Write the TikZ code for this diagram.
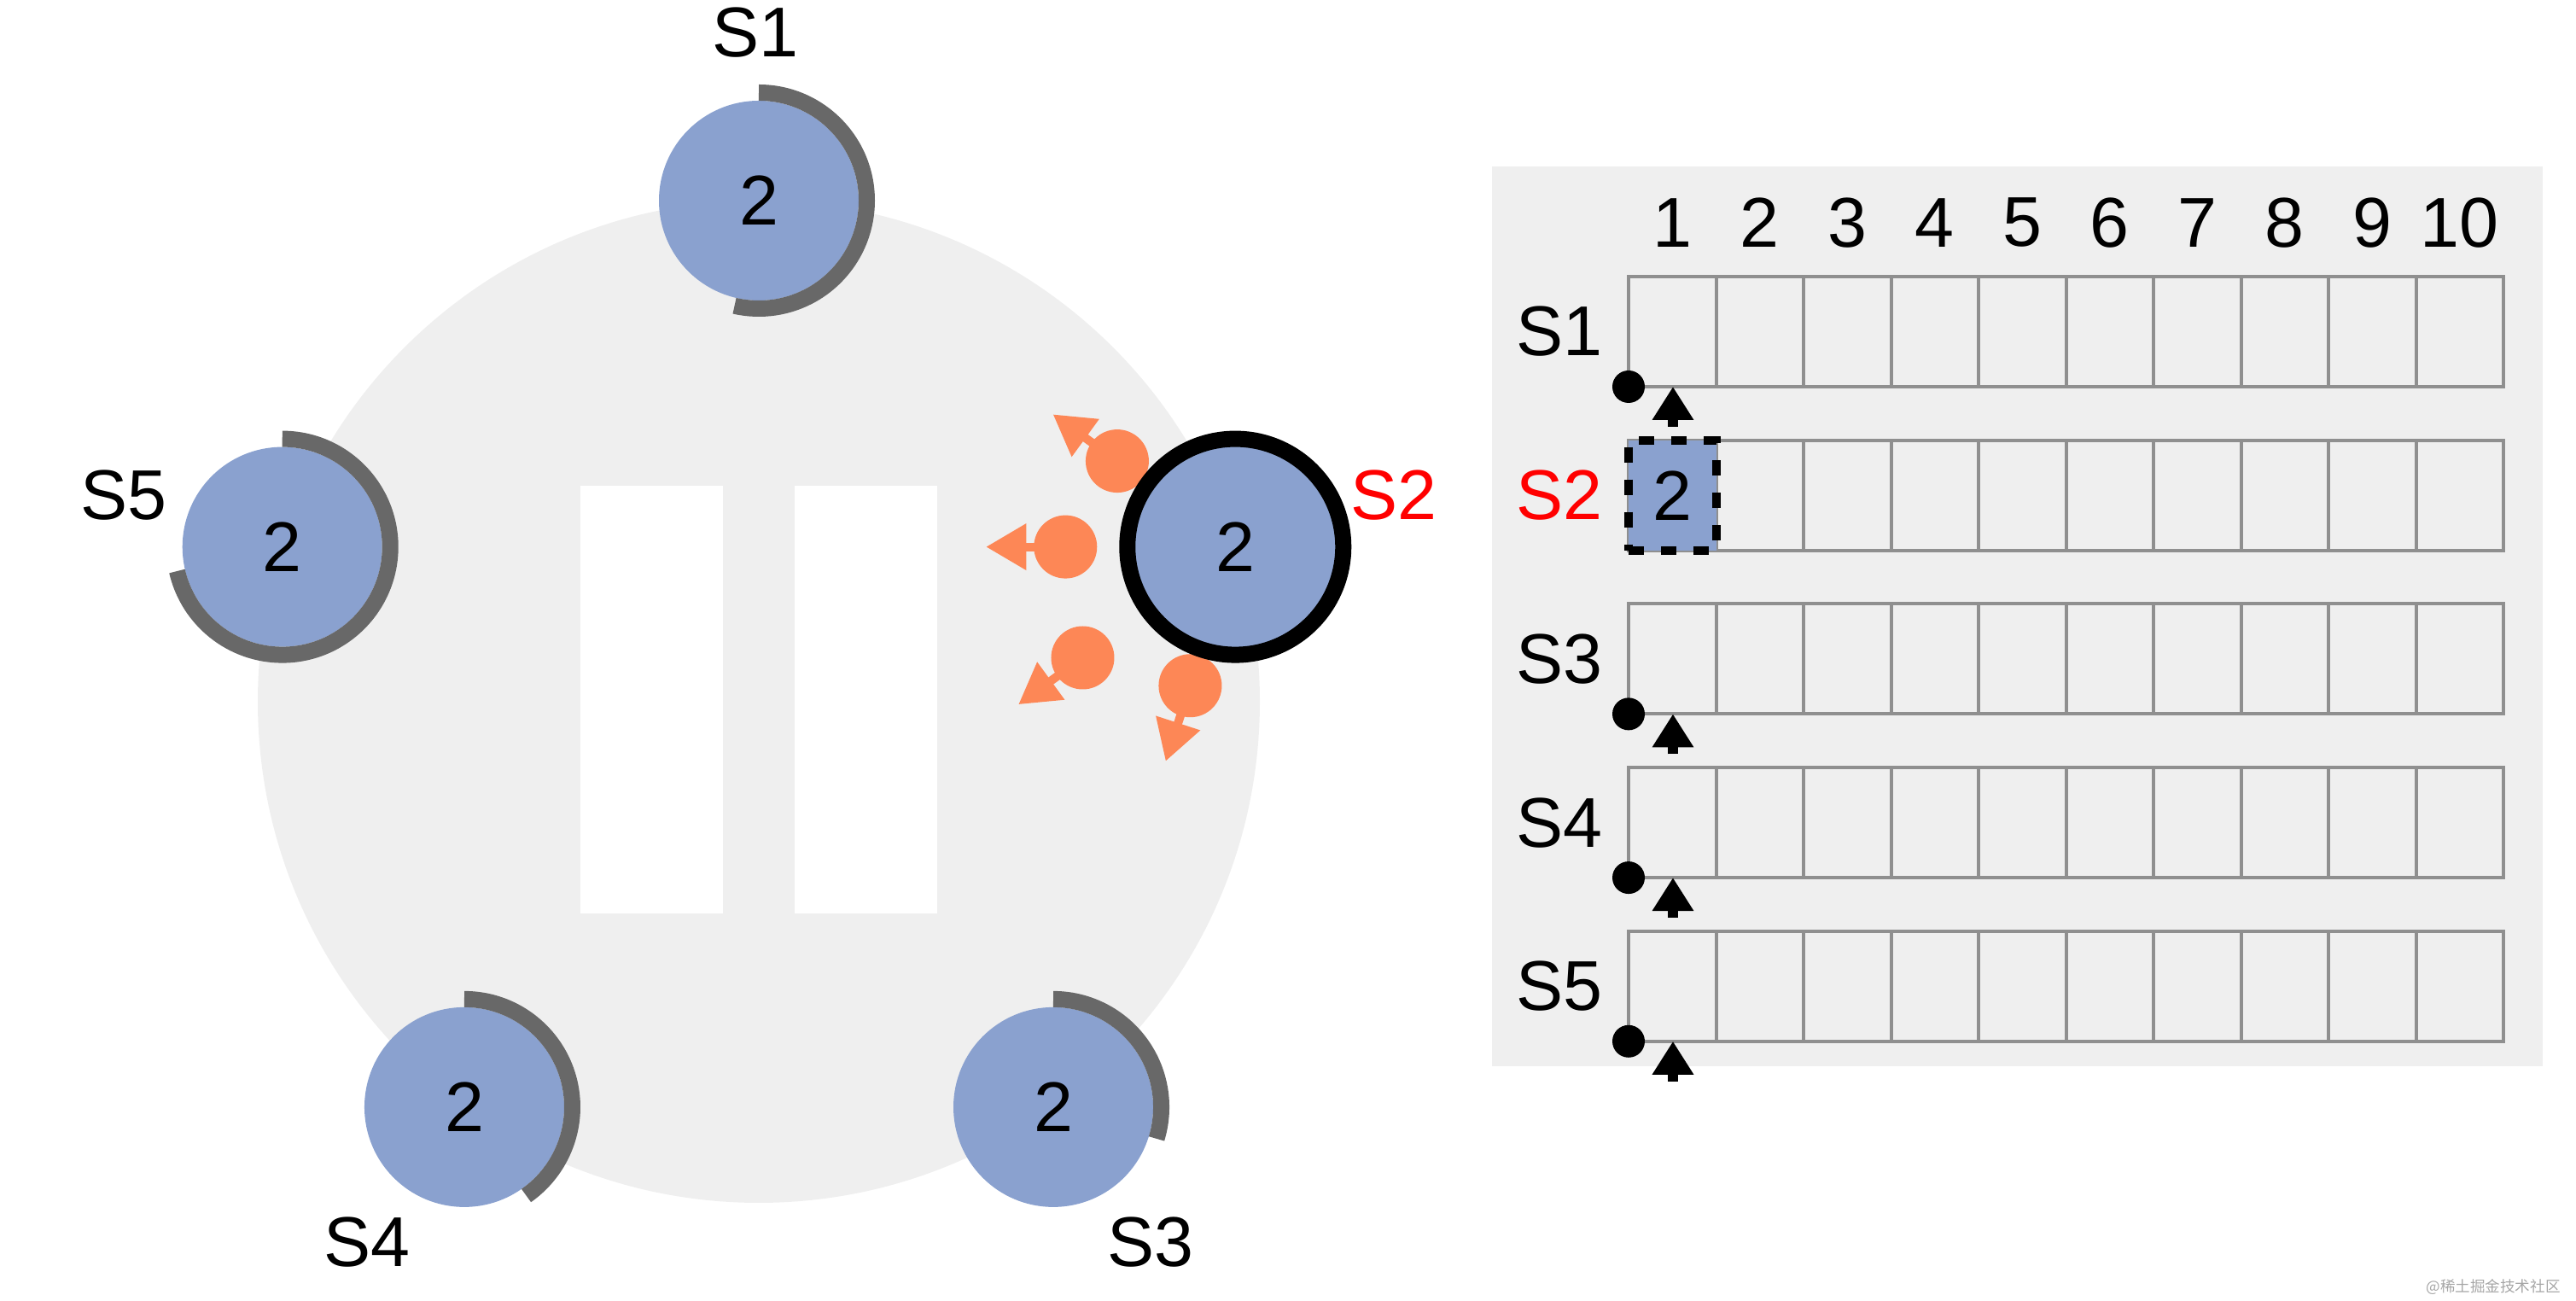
\documentclass[tikz,border=0pt]{standalone}
\usepackage{fontspec}
\setmainfont{Liberation Sans}
\newfontfamily\cjkfont{Noto Sans CJK SC}
\usepackage{tikz}
\usetikzlibrary{arrows.meta,positioning}
\definecolor{nodeblue}{RGB}{138,161,207}
\definecolor{ringgrey}{RGB}{239,239,239}
\definecolor{timergrey}{RGB}{104,104,104}
\definecolor{msgorange}{RGB}{253,135,86}
\definecolor{gridgrey}{RGB}{143,143,143}

\begin{document}
\begin{tikzpicture}[every node/.style={font=\fontsize{23.5}{28}\selectfont},
  server/.style={circle, fill=nodeblue, minimum size=2.34cm, inner sep=0pt},
  leader/.style={circle, fill=nodeblue, draw=black, line width=0.19cm, minimum size=2.53cm, inner sep=0pt},
  timer/.style={timergrey, line width=0.19cm},
  vote/.style={circle, fill=msgorange, minimum size=0.74cm, inner sep=0pt},
  votearrow/.style={msgorange, line width=0.1cm, -{Triangle[length=0.47cm, width=0.52cm]}},
  cell/.style={gridgrey, line width=0.04cm},
  logdot/.style={circle, fill=black, minimum size=0.38cm, inner sep=0pt},
  logarrow/.style={line width=0.12cm, -{Triangle[length=0.39cm, width=0.46cm]}},
  entry/.style={rectangle, fill=nodeblue, draw=black, line width=0.1cm, dash pattern=on 0.18cm off 0.2cm,
    minimum width=1.025cm, minimum height=1.29cm, inner sep=0pt}]
  \useasboundingbox (0,0) rectangle (30.18,15.24);
  \def\rad{5.87} \def\cw{1.025} \def\rh{1.29} \def\gx{19.08}

  % cluster
  \begin{scope}[shift={(8.89,7.02)}]
    \fill[ringgrey] (0,0) circle (\rad);
    \fill[white] (-2.09,-2.48) rectangle (-0.42,2.53);
    \fill[white] (0.42,-2.48) rectangle (2.09,2.53);
    \foreach \i/\a in {1/90, 2/18, 3/-54, 4/-126, 5/162}
      \coordinate (p\i) at (\a:\rad);
    \foreach \a/\d [count=\k] in {144/1.71, 180/1.99, 216/2.21, 252/1.71} {
      \node[vote] (req\k) at ([shift={(\a:\d)}]p2) {};
      \draw[votearrow] (req\k.center) -- ++(\a:0.93);
    }
    \foreach \i/\e in {1/-103, 3/-17, 4/-55, 5/-167} {
      \node[server] (s\i) at (p\i) {2};
      \draw[timer] (s\i.center) ++(0,1.265) arc[start angle=90, end angle=\e, radius=1.265];
    }
    \node[leader] (s2) at (p2) {2};
    \node (name1) at (-0.04,7.84) {S1};
    \node[red] (name2) at (7.44,2.42) {S2};
    \node (name3) at (4.59,-6.33) {S3};
    \node (name4) at (-4.59,-6.33) {S4};
    \node (name5) at (-7.44,2.42) {S5};
  \end{scope}

  % logs
  \fill[ringgrey] (17.48,2.75) rectangle (29.79,13.29);
  \foreach \j in {1,...,10}
    \node (col\j) at (\gx+\cw*\j-\cw/2, 12.63) {\j};
  \foreach \r/\clr in {1/black, 2/red, 3/black, 4/black, 5/black} {
    \pgfmathsetmacro\rowtop{12.00-1.917*(\r-1)}
    \node[text=\clr] (row\r) at (18.27, \rowtop-\rh/2) {S\r};
    \foreach \j in {0,...,9}
      \draw[cell] (\gx+\cw*\j, \rowtop-\rh) rectangle ++(\cw,\rh);
  }
  \node[entry] (entry) at (\gx+\cw/2, 10.083-\rh/2) {2};
  \foreach \r in {1,3,4,5} {
    \pgfmathsetmacro\rowbot{12.00-1.917*(\r-1)-\rh}
    \node[logdot] (dot\r) at (\gx, \rowbot) {};
    \coordinate (foot\r) at (\gx+0.52, \rowbot-0.47);
    \draw[logarrow] (foot\r) -- ++(0,0.47);
  }

  \node[anchor=east, text=gray!70, font=\cjkfont\fontsize{5}{6}\selectfont] (mark) at (30.12,0.16) {@稀土掘金技术社区};
\end{tikzpicture}
\end{document}
